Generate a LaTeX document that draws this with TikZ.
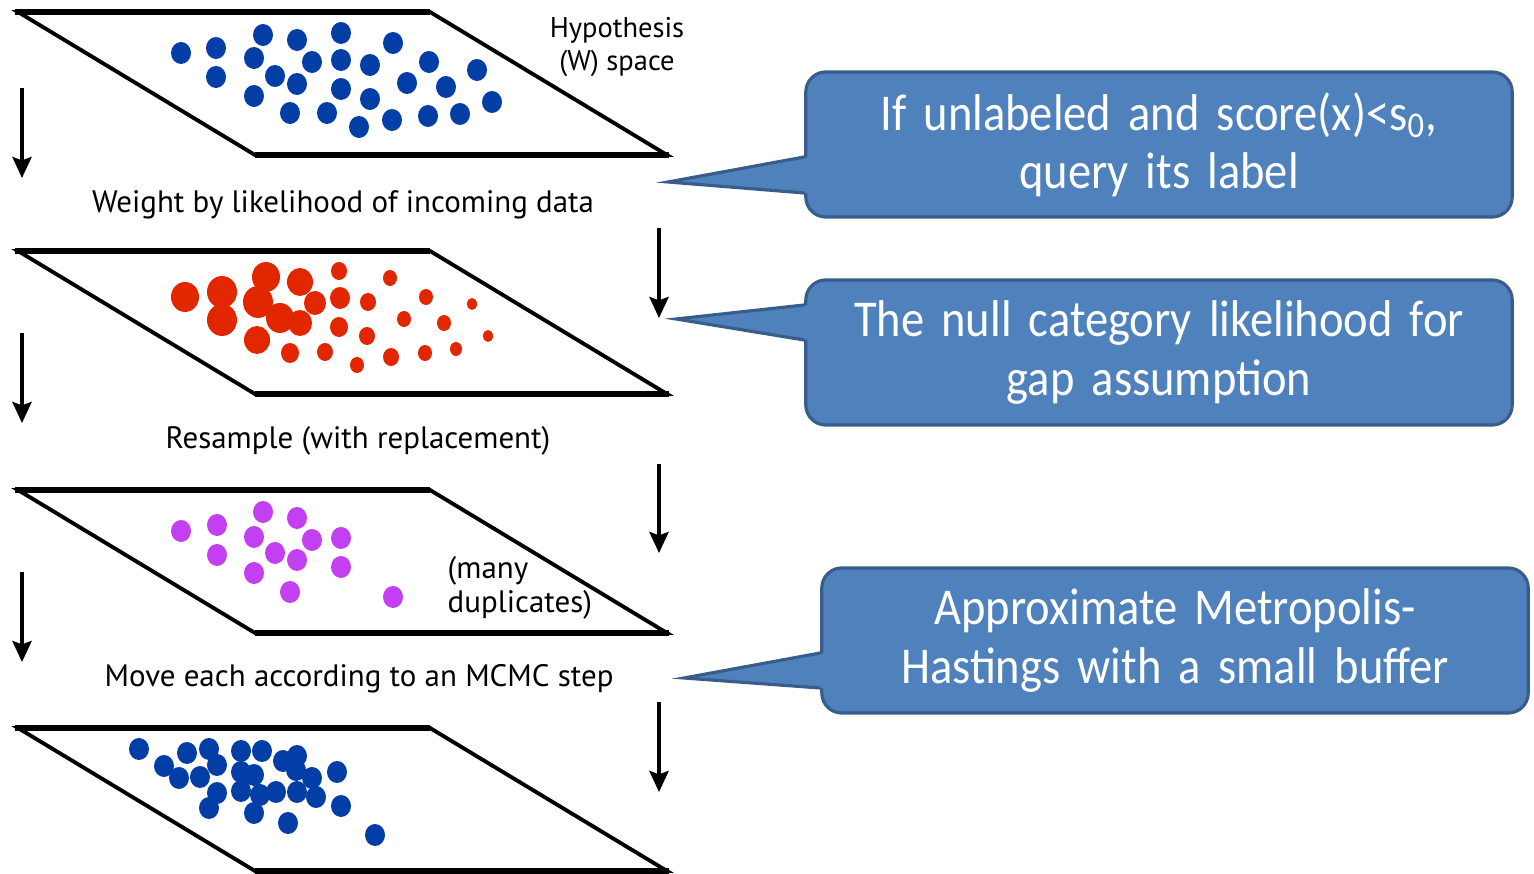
\documentclass[tikz,border=0pt]{standalone}
\usepackage{fontspec}
\setmainfont{PT Sans}
\newfontfamily\calloutfont[FakeStretch=0.9, WordSpace=0.72]{Carlito}
\usetikzlibrary{arrows.meta,calc}

\definecolor{callblue}{RGB}{79,129,189}
\definecolor{callborder}{RGB}{56,93,138}
\definecolor{wblue}{RGB}{2,62,166}
\definecolor{wred}{RGB}{226,38,0}
\definecolor{wpurple}{RGB}{194,64,242}

\begin{document}
\begin{tikzpicture}[
    x=0.01cm, y=-0.01cm,
    plane/.style={draw=black, line width=1.1pt, line join=miter},
    planeedge/.style={draw=black, line width=1.7pt},
    flow/.style={line width=0.9pt, -{Stealth[length=6pt,width=5.5pt,inset=1pt]}},
    lbl/.style={font=\fontsize{8.8}{9.6}\selectfont, inner sep=0pt},
    callout/.style={rectangle, rounded corners=0.2cm, fill=callblue, draw=callborder, line width=0.9pt,
        minimum width=7.06cm, minimum height=1.45cm, inner sep=3pt, text width=6.7cm, align=center,
        text=white, font=\calloutfont\fontsize{14.7}{16.5}\selectfont},
    pointer/.style={draw=callborder, line width=0.9pt, line join=miter}
]
\useasboundingbox (0,0) rectangle (1534,874);

% four hypothesis planes
\foreach \y in {12,251,490,728} {
    \draw[plane] (18,\y) -- (430,\y) -- (667,\y+143) -- (255,\y+143) -- cycle;
    \draw[planeedge] (15,\y) -- (430,\y) (255,\y+143) -- (669,\y+143);
}

% particles: prior samples
\foreach \x/\y in {181/53, 216/48, 216/77, 263/35, 297/40, 341/33, 393/43, 254/58, 275/76,
    312/62, 341/60, 370/65, 297/84, 254/96, 341/89, 370/99, 429/62, 407/83, 446/87, 477/70,
    492/102, 290/113, 327/113, 359/127, 392/120, 428/116, 460/114}
    \fill[wblue] (\x,\y) circle[x radius=10, y radius=11];

% particles: weighted
\foreach \x/\y/\r in {185/297/14, 222/292/15, 222/320/15, 258/302/15, 266/277/14, 300/282/13,
    315/303/11, 280/318/14, 300/323/12, 257/340/13, 339/271/8, 340/298/10, 339/327/9, 368/302/8,
    367/336/8, 390/278/7, 426/297/7, 404/319/7, 444/323/7, 472/304/5, 488/336/5, 290/353/9,
    325/352/8, 357/365/7, 391/357/8, 425/353/7, 456/349/6}
    \fill[wred] (\x,\y) circle[x radius=\r, y radius=\r+1];

% particles: resampled
\foreach \x/\y in {181/531, 217/525, 217/555, 263/512, 297/518, 254/537, 312/540, 341/538,
    275/553, 297/560, 254/573, 341/567, 290/592, 393/597}
    \fill[wpurple] (\x,\y) circle[x radius=10, y radius=11];

% particles: after MCMC move
\foreach \x/\y in {139/749, 164/766, 187/753, 209/749, 217/765, 179/778, 200/777, 241/751,
    262/751, 283/761, 297/756, 296/770, 312/778, 337/772, 241/772, 254/775, 217/793, 241/791,
    260/795, 276/792, 297/792, 316/797, 209/808, 254/813, 341/806, 288/823, 375/835}
    \fill[wblue] (\x,\y) circle[x radius=10, y radius=11];

% step labels
\node[lbl, align=center, font=\fontsize{8.1}{9.6}\selectfont] (space) at (617,47) {Hypothesis\\(W) space};
\node[lbl] (weight) at (343,205) {Weight by likelihood of incoming data};
\node[lbl] (resample) at (358,441) {Resample (with replacement)};
\node[lbl, align=left, anchor=west] (dup) at (447,588) {(many\\duplicates)};
\node[lbl] (move) at (359,679) {Move each according to an MCMC step};

% arrows between the planes
\foreach \i/\ya/\yb in {1/88/178, 2/333/423, 3/572/662} {
    \coordinate (ls\i) at (22,\ya);
    \coordinate (le\i) at (22,\yb);
    \draw[flow] (ls\i) -- (le\i);
}
\foreach \i/\ya/\yb in {1/228/318, 2/464/553, 3/702/792} {
    \coordinate (rs\i) at (659,\ya);
    \coordinate (re\i) at (659,\yb);
    \draw[flow] (rs\i) -- (re\i);
}

% callouts
\node[callout] (query) at (1159,144.5) {If unlabeled and score(x)<s\textsubscript{0},\\query its label};
\node[callout] (null) at (1159,352.5) {The null category likelihood for\\gap assumption};
\node[callout] (mh) at (1175,640.5) {Approximate Metropolis-\\Hastings with a small buffer};

\coordinate (qtip) at (668,182);
\coordinate (ntip) at (676,319);
\coordinate (mtip) at (684,678);

\fill[callblue] ($(query.west)+(5,12.5)$) -- (qtip) -- ($(query.west)+(5,48.5)$) -- cycle;
\draw[pointer] ($(query.west)+(0,12.5)$) -- (qtip) -- ($(query.west)+(0,48.5)$);

\fill[callblue] ($(null.west)+(5,-47.5)$) -- (ntip) -- ($(null.west)+(5,-12.5)$) -- cycle;
\draw[pointer] ($(null.west)+(0,-47.5)$) -- (ntip) -- ($(null.west)+(0,-12.5)$);

\fill[callblue] ($(mh.west)+(5,12.5)$) -- (mtip) -- ($(mh.west)+(5,47.5)$) -- cycle;
\draw[pointer] ($(mh.west)+(0,12.5)$) -- (mtip) -- ($(mh.west)+(0,47.5)$);

\end{tikzpicture}
\end{document}
